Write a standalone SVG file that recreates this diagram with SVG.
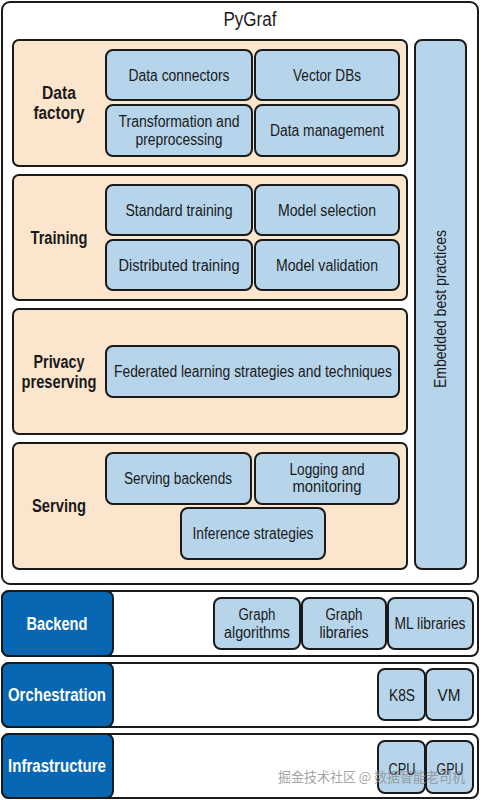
<svg xmlns="http://www.w3.org/2000/svg" width="480" height="800" viewBox="0 0 480 800">
<style>
.frame{fill:#fff;stroke:#1a1a1a;stroke-width:2}
.sec{fill:#fce5cd;stroke:#1a1a1a;stroke-width:2}
.box{fill:#b6d4ea;stroke:#1a1a1a;stroke-width:2}
.dark{fill:#0867b3;stroke:#1a1a1a;stroke-width:2}
text{font-family:"Liberation Sans",Arial,sans-serif;text-anchor:middle;fill:#1a1a1a}
.t{font-size:16px}
.h{font-size:17.5px;font-weight:bold}
.w{font-size:18px;font-weight:bold;fill:#fff}
.wm{font-family:"Noto Sans CJK SC",sans-serif;font-size:14px;fill:#8c8c8c;fill-opacity:0.8;text-anchor:start}
</style>
<rect x="0" y="0" width="480" height="800" fill="#fff"/>
<g id="pygraf">
<rect class="frame" x="2" y="2" width="476" height="582" rx="8"/>
<text x="250" y="26" style="font-size:20px" textLength="53" lengthAdjust="spacingAndGlyphs">PyGraf</text>
</g>
<g id="data-factory">
<rect class="sec" x="13" y="40" width="394" height="126" rx="6"/>
<text class="h" x="59" y="99" textLength="34" lengthAdjust="spacingAndGlyphs">Data</text>
<text class="h" x="59" y="119" textLength="51" lengthAdjust="spacingAndGlyphs">factory</text>
</g>
<g id="data-connectors"><rect class="box" x="106" y="50" width="146" height="50" rx="7"/><text class="t" x="179" y="81" textLength="101" lengthAdjust="spacingAndGlyphs">Data connectors</text></g>
<g id="vector-dbs"><rect class="box" x="255" y="50" width="144" height="50" rx="7"/><text class="t" x="327" y="81" textLength="68" lengthAdjust="spacingAndGlyphs">Vector DBs</text></g>
<g id="transformation"><rect class="box" x="106" y="105" width="146" height="51" rx="7"/><text class="t" x="179" y="127" textLength="121" lengthAdjust="spacingAndGlyphs">Transformation and</text><text class="t" x="179" y="145" textLength="87" lengthAdjust="spacingAndGlyphs">preprocessing</text></g>
<g id="data-management"><rect class="box" x="255" y="105" width="144" height="51" rx="7"/><text class="t" x="327" y="136" textLength="114" lengthAdjust="spacingAndGlyphs">Data management</text></g>

<g id="training">
<rect class="sec" x="13" y="175" width="394" height="125" rx="6"/>
<text class="h" x="59" y="244" textLength="57" lengthAdjust="spacingAndGlyphs">Training</text>
</g>
<g id="standard-training"><rect class="box" x="106" y="185" width="146" height="50" rx="7"/><text class="t" x="179" y="216" textLength="107" lengthAdjust="spacingAndGlyphs">Standard training</text></g>
<g id="model-selection"><rect class="box" x="255" y="185" width="144" height="50" rx="7"/><text class="t" x="327" y="216" textLength="98" lengthAdjust="spacingAndGlyphs">Model selection</text></g>
<g id="distributed-training"><rect class="box" x="106" y="240" width="146" height="50" rx="7"/><text class="t" x="179" y="271" textLength="121" lengthAdjust="spacingAndGlyphs">Distributed training</text></g>
<g id="model-validation"><rect class="box" x="255" y="240" width="144" height="50" rx="7"/><text class="t" x="327" y="271" textLength="102" lengthAdjust="spacingAndGlyphs">Model validation</text></g>

<g id="privacy-preserving">
<rect class="sec" x="13" y="309" width="394" height="125" rx="6"/>
<text class="h" x="59" y="368" textLength="51" lengthAdjust="spacingAndGlyphs">Privacy</text>
<text class="h" x="59" y="388" textLength="75" lengthAdjust="spacingAndGlyphs">preserving</text>
</g>
<g id="federated"><rect class="box" x="106" y="346" width="293" height="51" rx="7"/><text class="t" x="253" y="377" textLength="278" lengthAdjust="spacingAndGlyphs">Federated learning strategies and techniques</text></g>

<g id="serving">
<rect class="sec" x="13" y="443" width="394" height="126" rx="6"/>
<text class="h" x="59" y="512" textLength="54" lengthAdjust="spacingAndGlyphs">Serving</text>
</g>
<g id="serving-backends"><rect class="box" x="106" y="453" width="145" height="51" rx="7"/><text class="t" x="178" y="484" textLength="108" lengthAdjust="spacingAndGlyphs">Serving backends</text></g>
<g id="logging"><rect class="box" x="255" y="453" width="144" height="51" rx="7"/><text class="t" x="327" y="475" textLength="75" lengthAdjust="spacingAndGlyphs">Logging and</text><text class="t" x="327" y="492" textLength="69" lengthAdjust="spacingAndGlyphs">monitoring</text></g>
<g id="inference"><rect class="box" x="181" y="508" width="144" height="51" rx="7"/><text class="t" x="253" y="539" textLength="121" lengthAdjust="spacingAndGlyphs">Inference strategies</text></g>

<g id="embedded">
<rect class="box" x="415" y="40" width="51" height="529" rx="7"/>
<text class="t" transform="translate(446 309) rotate(-90)" textLength="158" lengthAdjust="spacingAndGlyphs">Embedded best practices</text>
</g>

<g id="backend">
<rect class="frame" x="2" y="591" width="476" height="65" rx="7"/>
<rect class="dark" x="2" y="591" width="111" height="65" rx="7"/>
<text class="w" x="57" y="630" textLength="61" lengthAdjust="spacingAndGlyphs">Backend</text>
</g>
<g id="graph-algorithms"><rect class="box" x="214" y="598" width="86" height="51" rx="7"/><text class="t" x="257" y="620" textLength="37" lengthAdjust="spacingAndGlyphs">Graph</text><text class="t" x="257" y="638" textLength="66" lengthAdjust="spacingAndGlyphs">algorithms</text></g>
<g id="graph-libraries"><rect class="box" x="302" y="598" width="84" height="51" rx="7"/><text class="t" x="344" y="620" textLength="37" lengthAdjust="spacingAndGlyphs">Graph</text><text class="t" x="344" y="638" textLength="49" lengthAdjust="spacingAndGlyphs">libraries</text></g>
<g id="ml-libraries"><rect class="box" x="388" y="598" width="85" height="51" rx="7"/><text class="t" x="430" y="629" textLength="71" lengthAdjust="spacingAndGlyphs">ML libraries</text></g>

<g id="orchestration">
<rect class="frame" x="2" y="663" width="476" height="64" rx="7"/>
<rect class="dark" x="2" y="663" width="111" height="64" rx="7"/>
<text class="w" x="57" y="701" textLength="98" lengthAdjust="spacingAndGlyphs">Orchestration</text>
</g>
<g id="k8s"><rect class="box" x="378" y="669" width="47" height="51" rx="7"/><text class="t" x="402" y="701" textLength="26" lengthAdjust="spacingAndGlyphs">K8S</text></g>
<g id="vm"><rect class="box" x="426" y="669" width="47" height="51" rx="7"/><text class="t" x="449" y="701" textLength="23" lengthAdjust="spacingAndGlyphs">VM</text></g>

<g id="infrastructure">
<rect class="frame" x="2" y="734" width="476" height="64" rx="7"/>
<rect class="dark" x="2" y="734" width="111" height="64" rx="7"/>
<text class="w" x="57" y="772" textLength="98" lengthAdjust="spacingAndGlyphs">Infrastructure</text>
</g>
<g id="cpu"><rect class="box" x="378" y="741" width="47" height="52" rx="7"/><text class="t" x="402" y="775" textLength="27" lengthAdjust="spacingAndGlyphs">CPU</text></g>
<g id="gpu"><rect class="box" x="426" y="741" width="47" height="52" rx="7"/><text class="t" x="450" y="775" textLength="27" lengthAdjust="spacingAndGlyphs">GPU</text></g>

<g id="connectors"></g>
<text class="wm" x="278" y="782" textLength="187" lengthAdjust="spacingAndGlyphs">掘金技术社区 @ 数据智能老司机</text>
</svg>
